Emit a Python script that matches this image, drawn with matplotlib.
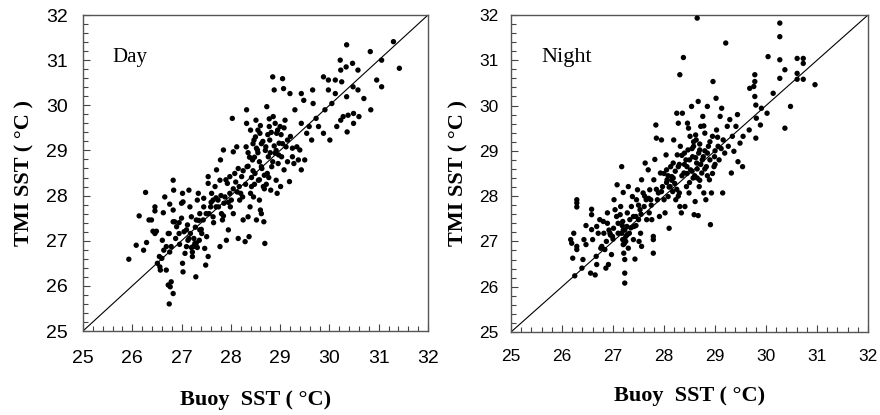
import matplotlib.pyplot as plt
import numpy as np
from matplotlib.ticker import MultipleLocator

# values (buoy SST, TMI SST)
day_buoy = [
    25.93, 26.08, 26.14, 26.23, 26.27, 26.29, 26.34, 26.39, 26.46, 26.46, 26.42, 26.46, 26.49,
    26.51, 26.56, 26.55, 26.60, 26.57, 26.61, 26.63, 26.66, 26.64, 26.69, 26.69, 26.73, 26.75,
    26.77, 26.79, 26.83, 26.76, 26.79, 26.73, 26.76, 26.75, 26.83, 26.84, 26.83, 26.83, 26.86,
    26.90, 26.95, 26.96, 27.00, 27.00, 27.02, 27.03, 27.02, 27.03, 27.07, 27.10, 27.10, 27.13,
    27.15, 27.17, 27.18, 27.20, 27.22, 27.24, 27.27, 27.30, 27.29, 27.32, 27.34, 27.36, 27.37,
    27.37, 27.41, 27.44, 27.45, 27.47, 27.49, 27.51, 27.54, 27.54, 27.54, 27.56, 27.59, 27.61,
    27.64, 27.64, 27.68, 27.70, 27.71, 27.74, 27.78, 27.78, 27.79, 27.81, 27.83, 27.85, 27.86,
    27.88, 27.91, 27.93, 27.95, 27.98, 27.99, 28.01, 28.03, 28.05, 28.05, 28.08, 28.12, 28.13,
    28.15, 28.17, 28.18, 28.22, 28.24, 28.25, 28.29, 28.31, 28.32, 28.32, 28.33, 28.35, 28.37,
    28.39, 28.40, 28.42, 28.44, 28.46, 28.47, 28.49, 28.51, 28.52, 28.54, 28.56, 28.58, 28.59,
    28.60, 28.62, 28.62, 28.66, 28.67, 28.69, 28.71, 28.73, 28.74, 28.76, 28.78, 28.79, 28.81,
    28.83, 28.85, 28.86, 28.88, 28.90, 28.92, 28.93, 28.94, 28.96, 28.98, 29.00, 29.01, 29.03,
    29.05, 29.07, 29.08, 29.10, 29.12, 29.15, 29.19, 29.20, 29.21, 29.25, 29.28, 29.30, 29.34,
    29.37, 29.40, 29.43, 29.43, 29.43, 29.48, 29.50, 29.54, 29.59, 29.64, 29.66, 29.67, 29.73,
    29.78, 29.88, 29.88, 29.91, 29.98, 29.98, 30.01, 30.05, 30.12, 30.12, 30.15, 30.22, 30.23,
    30.23, 30.25, 30.28, 30.34, 30.35, 30.35, 30.36, 30.38, 30.47, 30.48, 30.49, 30.49, 30.58,
    30.58, 30.60, 30.70, 30.83, 30.84, 30.96, 31.06, 31.06, 31.30, 31.42,
    28.55, 28.62, 28.68, 28.75, 28.45, 28.40, 28.30, 28.58, 28.80, 28.95, 28.20, 28.35, 28.48,
    28.72, 29.05, 28.88, 27.95, 27.85, 27.75, 27.65, 27.25, 27.30, 27.20, 27.15, 27.40,
    28.50, 28.55, 28.60, 28.65, 28.70, 28.52, 28.45, 28.38, 28.42, 28.58, 28.63, 28.68, 28.77,
    28.85, 28.92, 28.97, 29.02, 29.08, 28.82, 28.78, 28.90, 28.25, 28.15, 28.10, 28.05, 27.98,
    27.90, 27.80, 27.70, 27.60, 27.50, 27.45, 27.35, 27.28, 27.12, 27.05, 26.95, 26.88, 27.22,
    27.32, 29.15, 29.25, 28.35, 28.48,
]
day_tmi = [
    26.59, 26.90, 27.55, 26.79, 28.07, 26.96, 27.46, 27.46, 27.75, 27.66, 27.21, 27.16, 27.21,
    26.50, 26.42, 26.65, 26.61, 26.35, 27.01, 27.62, 27.97, 26.79, 26.87, 26.35, 26.02, 25.60,
    25.98, 26.09, 25.83, 26.75, 26.87, 27.16, 27.81, 27.16, 28.34, 28.12, 27.68, 27.42, 27.42,
    27.31, 27.16, 26.92, 27.50, 27.83, 28.05, 27.86, 26.50, 26.31, 26.72, 26.87, 27.24, 27.01,
    28.12, 27.75, 27.16, 27.53, 26.65, 26.87, 26.94, 27.46, 26.20, 27.90, 28.05, 27.01, 27.60,
    27.24, 27.16, 27.46, 27.94, 26.83, 26.46, 27.09, 26.65, 28.42, 28.27, 27.60, 27.75, 28.05,
    27.53, 27.90, 28.20, 27.75, 28.57, 27.90, 28.34, 26.87, 28.79, 27.60, 27.46, 29.01, 27.83,
    27.97, 27.01, 28.27, 27.24, 28.42, 27.75, 27.90, 29.71, 28.97, 27.60, 28.49, 29.08, 28.08,
    27.05, 28.20, 27.90, 28.42, 27.97, 27.46, 26.98, 29.08, 29.60, 29.90, 28.64, 27.53, 27.09,
    27.75, 29.45, 28.20, 28.79, 27.97, 29.23, 28.49, 29.67, 27.46, 29.01, 28.34, 27.90, 29.38,
    27.68, 28.64, 27.60, 28.20, 27.42, 26.94, 29.08, 29.97, 28.49, 28.86, 29.53, 29.23, 28.12,
    28.64, 30.63, 29.75, 30.34, 28.94, 28.34, 29.38, 28.05, 28.71, 29.16, 29.53, 28.20, 28.86,
    30.59, 30.37, 28.57, 29.67, 29.08, 29.23, 28.31, 30.26, 29.31, 28.86, 28.71, 29.90, 29.08,
    28.79, 29.01, 30.26, 29.60, 28.57, 30.11, 28.79, 29.38, 29.53, 29.23, 30.34, 30.04, 29.71,
    29.53, 30.63, 29.38, 29.90, 30.34, 30.56, 29.23, 30.04, 30.26, 30.56, 29.53, 31.00, 29.67,
    30.78, 30.52, 29.75, 30.85, 31.34, 30.19, 29.41, 29.78, 30.93, 30.41, 29.60, 29.82, 30.78,
    30.34, 29.75, 30.15, 31.19, 29.90, 30.56, 31.00, 30.41, 31.41, 30.82,
    28.95, 29.15, 28.45, 29.35, 28.55, 28.05, 28.25, 28.75, 28.95, 29.45, 28.05, 28.65, 28.85,
    28.25, 29.15, 29.10, 27.85, 27.55, 27.75, 27.40, 27.05, 26.95, 26.85, 27.05, 27.25,
    29.30, 29.45, 29.55, 29.20, 29.00, 29.05, 29.15, 28.85, 28.40, 28.35, 28.60, 28.15, 28.40,
    28.75, 29.00, 28.90, 29.35, 29.50, 29.40, 29.70, 29.60, 28.55, 28.60, 28.30, 28.15, 28.05,
    28.35, 28.00, 27.95, 27.85, 27.60, 27.75, 27.45, 27.30, 27.35, 27.20, 27.40, 27.05, 26.75,
    26.85, 28.75, 29.05, 28.95, 28.25,
]

night_buoy = [
    26.17, 26.19, 26.21, 26.23, 26.25, 26.29, 26.29, 26.29, 26.29, 26.29, 26.39, 26.41, 26.43,
    26.47, 26.47, 26.56, 26.58, 26.58, 26.58, 26.60, 26.65, 26.67, 26.68, 26.68, 26.71, 26.74,
    26.76, 26.78, 26.81, 26.82, 26.84, 26.86, 26.87, 26.89, 26.89, 26.91, 26.94, 26.95, 26.97,
    26.99, 27.01, 27.02, 27.04, 27.07, 27.08, 27.10, 27.14, 27.15, 27.17, 27.17, 27.19, 27.19,
    27.20, 27.20, 27.21, 27.23, 27.23, 27.23, 27.23, 27.25, 27.27, 27.28, 27.30, 27.30, 27.32,
    27.33, 27.36, 27.38, 27.40, 27.41, 27.43, 27.45, 27.46, 27.48, 27.50, 27.51, 27.53, 27.54,
    27.56, 27.56, 27.59, 27.61, 27.63, 27.65, 27.66, 27.69, 27.71, 27.72, 27.74, 27.76, 27.79,
    27.79, 27.79, 27.80, 27.82, 27.84, 27.85, 27.87, 27.89, 27.91, 27.93, 27.95, 27.97, 28.00,
    28.02, 28.04, 28.05, 28.06, 28.08, 28.10, 28.12, 28.13, 28.15, 28.17, 28.18, 28.19, 28.21,
    28.23, 28.25, 28.26, 28.28, 28.28, 28.30, 28.31, 28.31, 28.32, 28.34, 28.36, 28.38, 28.39,
    28.41, 28.43, 28.44, 28.46, 28.47, 28.49, 28.51, 28.52, 28.54, 28.56, 28.57, 28.59, 28.61,
    28.63, 28.64, 28.65, 28.67, 28.67, 28.69, 28.70, 28.72, 28.74, 28.76, 28.77, 28.78, 28.80,
    28.82, 28.83, 28.85, 28.87, 28.89, 28.90, 28.91, 28.93, 28.95, 28.96, 28.98, 28.99, 29.02,
    29.03, 29.06, 29.08, 29.10, 29.13, 29.15, 29.16, 29.19, 29.21, 29.24, 29.26, 29.29, 29.32,
    29.34, 29.37, 29.41, 29.44, 29.45, 29.49, 29.54, 29.55, 29.67, 29.68, 29.76, 29.78, 29.78,
    29.78, 29.80, 29.80, 29.81, 29.89, 29.91, 30.02, 30.04, 30.14, 30.27, 30.27, 30.27, 30.27,
    30.37, 30.37, 30.48, 30.61, 30.61, 30.61, 30.73, 30.73, 30.73, 30.96,
    28.45, 28.55, 28.62, 28.58, 28.68, 28.50, 28.40, 28.72, 28.80, 28.35, 28.25, 28.15, 28.08,
    27.75, 27.55, 27.45, 27.25, 27.20, 28.65, 28.85, 29.00, 28.90,
    28.40, 28.45, 28.50, 28.55, 28.60, 28.65, 28.70, 28.75, 28.80, 28.85, 28.58, 28.62, 28.70,
    28.35, 28.30, 28.22, 28.18, 28.10, 28.05, 28.00, 27.95, 27.85, 27.70, 27.62, 27.50, 27.40,
    27.35, 27.28, 27.22, 27.18, 27.10, 27.00, 26.92, 28.95, 29.00, 29.05, 29.12, 28.48, 28.78,
    28.28,
]
night_tmi = [
    27.04, 26.96, 26.63, 27.18, 26.24, 26.89, 26.82, 27.92, 27.85, 27.76, 26.41, 26.60, 27.04,
    27.35, 26.93, 26.30, 27.26, 27.71, 27.59, 27.04, 26.26, 26.67, 26.49, 27.33, 27.18, 27.48,
    26.85, 26.89, 27.44, 27.18, 26.82, 26.41, 27.00, 27.40, 27.63, 26.49, 27.18, 27.14, 26.71,
    27.11, 27.29, 27.92, 27.70, 27.55, 28.25, 27.18, 27.59, 27.77, 28.65, 27.18, 27.04, 27.44,
    26.93, 28.08, 26.74, 27.25, 26.60, 26.30, 26.08, 27.11, 27.33, 27.63, 28.21, 26.85, 27.18,
    27.48, 27.77, 27.99, 27.04, 27.33, 26.61, 27.55, 27.92, 28.14, 27.48, 27.00, 27.70, 27.18,
    28.36, 26.89, 28.07, 27.77, 28.73, 27.92, 27.48, 28.58, 27.63, 28.14, 27.92, 27.48, 27.11,
    27.04, 26.74, 28.36, 28.81, 29.57, 29.28, 27.92, 28.07, 27.55, 28.51, 29.24, 28.21, 27.92,
    27.63, 28.91, 28.58, 28.36, 27.99, 27.29, 28.21, 28.65, 28.43, 28.10, 28.73, 29.24, 28.28,
    27.92, 29.83, 28.91, 29.61, 28.65, 28.07, 30.68, 27.77, 29.10, 27.63, 29.83, 31.06, 28.51,
    27.77, 28.80, 28.21, 29.61, 29.02, 28.07, 29.32, 28.58, 29.98, 28.87, 28.40, 27.59, 27.88,
    29.24, 28.73, 31.93, 30.09, 27.57, 28.21, 29.02, 29.54, 28.51, 29.76, 28.87, 28.07, 29.39,
    27.92, 28.65, 29.98, 29.10, 28.36, 28.80, 27.37, 28.07, 29.32, 30.53, 28.65, 28.87, 30.16,
    29.46, 29.10, 28.80, 29.76, 29.94, 28.07, 29.24, 28.95, 31.38, 29.54, 29.10, 29.69, 28.51,
    29.32, 28.99, 29.54, 29.80, 28.76, 29.17, 28.65, 29.32, 29.46, 30.38, 30.42, 30.53, 30.68,
    30.20, 30.01, 29.28, 29.72, 29.57, 29.94, 29.83, 31.08, 30.27, 31.82, 31.52, 31.01, 30.60,
    30.79, 29.50, 29.98, 31.04, 30.71, 30.58, 31.04, 30.93, 30.58, 30.46,
    28.65, 28.55, 28.85, 29.10, 28.95, 28.30, 28.95, 28.70, 28.60, 28.45, 28.15, 28.35, 28.45,
    27.80, 27.60, 27.35, 27.00, 27.25, 28.40, 28.95, 29.00, 29.20,
    28.70, 28.50, 28.80, 29.05, 28.45, 28.60, 28.35, 28.80, 29.00, 28.45, 29.20, 29.35, 29.15,
    28.90, 28.70, 28.55, 28.40, 28.20, 28.30, 28.50, 28.10, 28.15, 27.95, 28.00, 27.80, 27.55,
    27.30, 27.15, 26.95, 27.35, 27.40, 27.05, 27.25, 28.50, 28.70, 29.30, 29.05, 29.50, 29.55,
    28.00,
]

serif = ['Liberation Serif', 'DejaVu Serif']
sans = ['Liberation Sans', 'DejaVu Sans']


def draw_panel(ax, xs, ys, label, label_size, tick_size, tick_pad):
    ax.scatter(xs, ys, s=15, c='black', edgecolors='none', zorder=3)
    ax.plot([25, 32], [25, 32], color='black', lw=0.8, zorder=2)
    ax.set_xlim(25, 32)
    ax.set_ylim(25, 32)
    ax.xaxis.set_major_locator(MultipleLocator(1))
    ax.yaxis.set_major_locator(MultipleLocator(1))
    ax.xaxis.set_minor_locator(MultipleLocator(0.2))
    ax.yaxis.set_minor_locator(MultipleLocator(0.2))
    ax.tick_params(which='both', direction='in', top=False, right=False,
                   color='#444444', width=0.8)
    ax.tick_params(which='major', length=5, labelsize=tick_size, pad=tick_pad)
    ax.tick_params(axis='x', which='major', pad=tick_pad + 3)
    ax.tick_params(which='minor', length=3.5)
    for lab in ax.get_xticklabels() + ax.get_yticklabels():
        lab.set_family(sans)
    for sp in ax.spines.values():
        sp.set_color('#555555')
        sp.set_linewidth(1.0)
    ax.text(25.6, 31.05, label, family=serif, fontsize=label_size, va='center')
    ax.set_xlabel('Buoy  SST ( \u00b0C)', family=serif, fontweight='bold',
                  fontsize=16, labelpad=16)
    ax.set_ylabel('TMI SST ( \u00b0C )', family=serif, fontweight='bold',
                  fontsize=16, labelpad=8)


fig = plt.figure(figsize=(8.8, 4.15), dpi=100)
ax1 = fig.add_axes([0.0943, 0.2024, 0.392, 0.7614])
ax2 = fig.add_axes([0.5807, 0.2, 0.4057, 0.764])

draw_panel(ax1, day_buoy, day_tmi, 'Day', 15, 14, 11)
draw_panel(ax2, night_buoy, night_tmi, 'Night', 16, 12.5, 9)

fig.savefig('out.png', dpi=100)
